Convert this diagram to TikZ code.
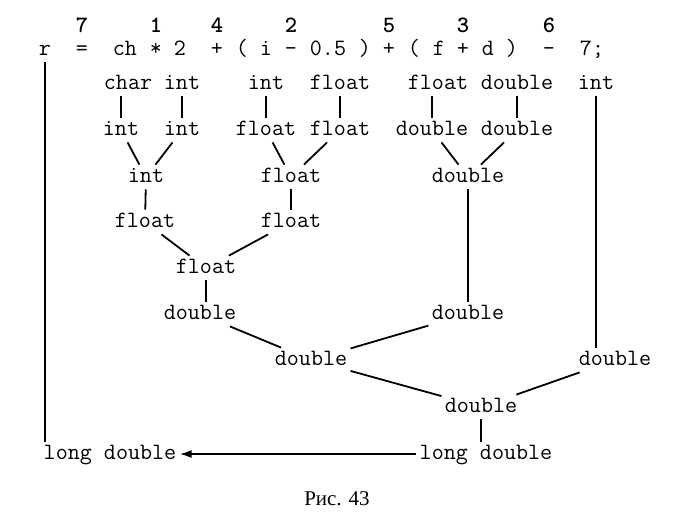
\documentclass[tikz,border=0pt]{standalone}
\usepackage{fontspec}
\setmainfont{Liberation Serif}
\usetikzlibrary{arrows.meta}

\begin{document}
\begin{tikzpicture}[x=0.5pt, y=-0.5pt,
  font=\ttfamily\fontsize{11.7}{13}\selectfont,
  every node/.style={inner sep=1.5pt, text height=7pt, text depth=2pt},
  link/.style={line width=0.9pt}]
\useasboundingbox (0,0) rectangle (676,525);

% order of the operations
\foreach \x/\n in {82/7, 156/1, 217/4, 291/2, 389/5, 463/3, 549/6}
   \node[font=\ttfamily\bfseries\fontsize{11.7}{13}\selectfont] (ord\n) at (\x, 27) {\n};

% the expression
\foreach \x/\tok/\nm in {45/r/r, 82/=/eq, 125/ch/ch, 156/*/mul, 180/2/two,
      217/+/plusA, 242/(/lpA, 266/i/i, 291/-/minA, 328/0.5/half, 365/)/rpA,
      389/+/plusB, 414/(/lpB, 439/f/f, 463/+/plusC, 488/d/d, 512/)/rpB,
      549/-/minB}
   \node (\nm) at (\x, 50) {\tok};
\node (seven) at (592, 50) {7;};

% operand types
\node (c1) at (128, 84) {char};
\node (c2) at (182, 84) {int};
\node (c3) at (266, 84) {int};
\node (c4) at (340, 84) {float};
\node (c5) at (438, 84) {float};
\node (c6) at (517, 84) {double};
\node (c7) at (596, 84) {int};

% after conversion
\node (d1) at (121, 130) {int};
\node (d2) at (182, 130) {int};
\node (d3) at (266, 130) {float};
\node (d4) at (340, 130) {float};
\node (d5) at (432, 130) {double};
\node (d6) at (517, 130) {double};

% results
\node (e1) at (146, 177) {int};
\node (e2) at (291, 177) {float};
\node (e3) at (468, 177) {double};
\node (f1) at (145, 222) {float};
\node (f2) at (291, 222) {float};
\node (g1) at (206, 268) {float};
\node (h1) at (200, 314) {double};
\node (h2) at (468, 314) {double};
\node (i1) at (311, 360) {double};
\node (i2) at (615, 360) {double};
\node (j1) at (481, 407) {double};
\node (kL) at (110, 454) {long double};
\node (kR) at (486, 454) {long double};

\node[font=\rmfamily\fontsize{10.5}{12}\selectfont] (cap) at (337, 500) {Рис. 43};

% connectors
\draw[link] (d1.north |- c1.south) -- (d1.north);
\foreach \a/\b in {c2/d2, c3/d3, c4/d4, c6/d6, e1/f1, e2/f2, e3/h2}
   \draw[link] (\a) -- (\b);
\draw[link] (d5.north |- c5.south) -- (d5.north);
\foreach \a/\b in {d1/e1, d2/e1, d3/e2, d4/e2, d5/e3, d6/e3,
      f1/g1, f2/g1, h1/i1, h2/i1, i1/j1, i2/j1}
   \draw[link] (\a) -- (\b);
\draw[link] (g1.south) -- (g1.south |- h1.north);
\draw[link] (c7.south) -- (c7.south |- i2.north);
\draw[link] (j1.south) -- (j1.south |- kR.north);
\draw[link] (r.south) -- (r.south |- kL.north);
\draw[link, -{Latex[length=6pt, width=4pt]}] (kR) -- (kL);
\end{tikzpicture}
\end{document}
